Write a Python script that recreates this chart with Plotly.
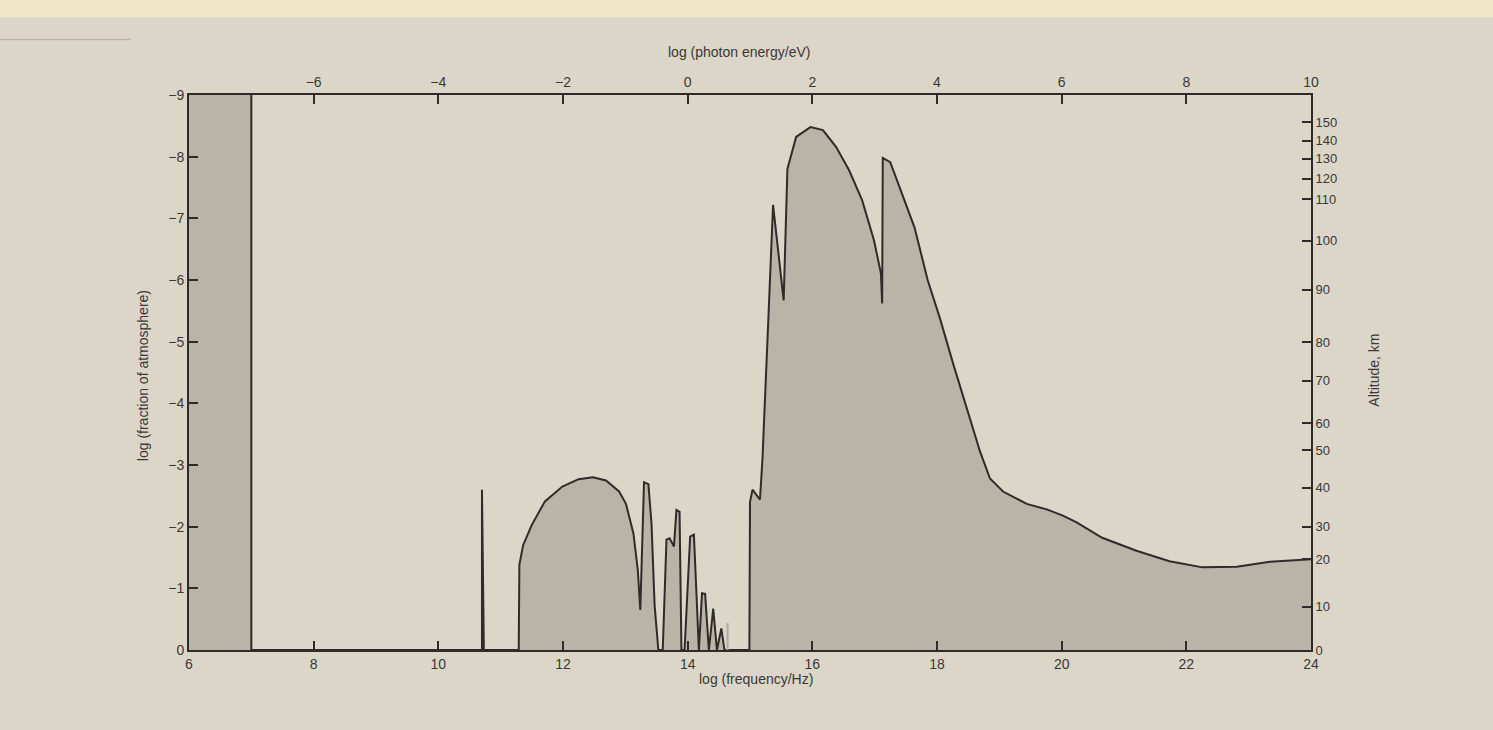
import plotly.graph_objects as go

# ---- data ----
log_freq = [6.0, 7.0, 7.0, 10.70, 10.70, 10.73, 11.29, 11.30, 11.36, 11.50, 11.71, 11.99,
            12.25, 12.48, 12.69, 12.90, 13.01, 13.13, 13.20, 13.24, 13.30, 13.37, 13.42,
            13.47, 13.53, 13.60, 13.66, 13.71, 13.78, 13.82, 13.87, 13.90, 13.95, 14.04,
            14.10, 14.18, 14.23, 14.28, 14.34, 14.41, 14.47, 14.54, 14.59, 14.99, 15.00,
            15.04, 15.16, 15.20, 15.30, 15.37, 15.54, 15.60, 15.74, 15.97, 16.17, 16.38,
            16.59, 16.80, 16.99, 17.10, 17.12, 17.13, 17.25, 17.42, 17.64, 17.85, 18.05,
            18.26, 18.48, 18.69, 18.85, 19.06, 19.44, 19.76, 20.02, 20.24, 20.65, 21.20,
            21.73, 22.26, 22.81, 23.34, 24.0]
log_fraction = [-10.0, -10.0, 0.0, 0.0, -2.60, 0.0, 0.0, -1.38, -1.70, -2.03, -2.41, -2.65,
                -2.77, -2.80, -2.75, -2.57, -2.37, -1.89, -1.30, -0.65, -2.72, -2.69, -2.05,
                -0.72, 0.0, 0.0, -1.79, -1.81, -1.68, -2.27, -2.24, 0.0, 0.0, -1.84,
                -1.87, 0.0, -0.92, -0.91, 0.0, -0.67, 0.0, -0.35, 0.0, 0.0, -2.40,
                -2.60, -2.44, -3.10, -5.50, -7.22, -5.67, -7.80, -8.32, -8.48, -8.43, -8.16,
                -7.78, -7.29, -6.64, -6.11, -5.62, -7.98, -7.91, -7.46, -6.85, -6.00, -5.37,
                -4.64, -3.92, -3.22, -2.78, -2.57, -2.37, -2.28, -2.18, -2.07, -1.82, -1.61,
                -1.44, -1.34, -1.35, -1.43, -1.47]

faint_freq = [14.64, 14.64]
faint_fraction = [0.0, -0.44]

freq_ticks = [6, 8, 10, 12, 14, 16, 18, 20, 22, 24]
fraction_ticks = [0, -1, -2, -3, -4, -5, -6, -7, -8, -9]
energy_range = [-8, 10]
energy_ticks = [-6, -4, -2, 0, 2, 4, 6, 8, 10]
altitude_km = [0, 10, 20, 30, 40, 50, 60, 70, 80, 90, 100, 110, 120, 130, 140, 150]
altitude_pos = [0.0, -0.70, -1.47, -2.00, -2.63, -3.24, -3.68, -4.37, -4.99, -5.84,
                -6.64, -7.31, -7.64, -7.97, -8.26, -8.56]

# ---- styles ----
PAPER = "#DCD6C9"
FILL = "#B9B3A8"
INK = "#2E2C29"
FONT = dict(family="Liberation Sans, Arial, sans-serif", size=14, color="#3A3835")
FONT_SMALL = dict(family="Liberation Sans, Arial, sans-serif", size=13, color="#3A3835")

fig = go.Figure()
fig.add_trace(go.Scatter(x=log_freq, y=log_fraction, mode="lines", fill="tozeroy",
                         fillcolor=FILL, line=dict(color=INK, width=2),
                         hoverinfo="skip", showlegend=False))
fig.add_trace(go.Scatter(x=faint_freq, y=faint_fraction, mode="lines",
                         line=dict(color="#AFA99F", width=2),
                         hoverinfo="skip", showlegend=False))
# invisible trace to activate the top/right axes
fig.add_trace(go.Scatter(x=energy_range, y=[0, 0], xaxis="x2", yaxis="y2", mode="lines",
                         line=dict(color="rgba(0,0,0,0)"), hoverinfo="skip",
                         showlegend=False))

axis_common = dict(showline=True, linecolor=INK, linewidth=2, ticks="inside",
                   ticklen=9, tickwidth=2, tickcolor=INK, showgrid=False,
                   zeroline=False)

fig.update_layout(
    width=1493, height=730,
    margin=dict(l=189, r=182, t=95, b=80),
    paper_bgcolor=PAPER, plot_bgcolor=PAPER,
    font=FONT,
    xaxis=dict(range=[6, 24], tickvals=freq_ticks, tickfont=FONT, **axis_common),
    yaxis=dict(range=[0, -9], tickvals=fraction_ticks, tickfont=FONT, **axis_common),
    xaxis2=dict(range=energy_range, tickvals=energy_ticks, overlaying="x", side="top",
                anchor="y", tickfont=FONT, **axis_common),
    yaxis2=dict(range=[0, -9], tickvals=altitude_pos, ticktext=[str(a) for a in altitude_km],
                overlaying="y", side="right", anchor="x", tickfont=FONT_SMALL,
                **axis_common),
    shapes=[
        dict(type="rect", xref="paper", yref="paper", x0=-0.2, x1=1.2, y0=1.14, y1=1.2,
             fillcolor="#EFE6C8", line=dict(width=0), layer="below"),
        dict(type="line", xref="paper", yref="paper", x0=-0.17, x1=-0.052, y0=1.1,
             y1=1.1, line=dict(color="#BDB6A6", width=1.5)),
    ],
    annotations=[
        dict(text="log (frequency/Hz)", xref="paper", yref="paper", x=0.505, y=-0.07,
             showarrow=False, font=FONT),
        dict(text="log (photon energy/eV)", xref="paper", yref="paper", x=0.49, y=1.095,
             showarrow=False, font=FONT),
        dict(text="log (fraction of atmosphere)", xref="paper", yref="paper", x=-0.05,
             y=0.495, textangle=-90, showarrow=False, font=FONT),
        dict(text="Altitude, km", xref="paper", yref="paper", x=1.065, y=0.505,
             textangle=-90, showarrow=False, font=FONT),
    ],
)

fig.write_html("out.html")
